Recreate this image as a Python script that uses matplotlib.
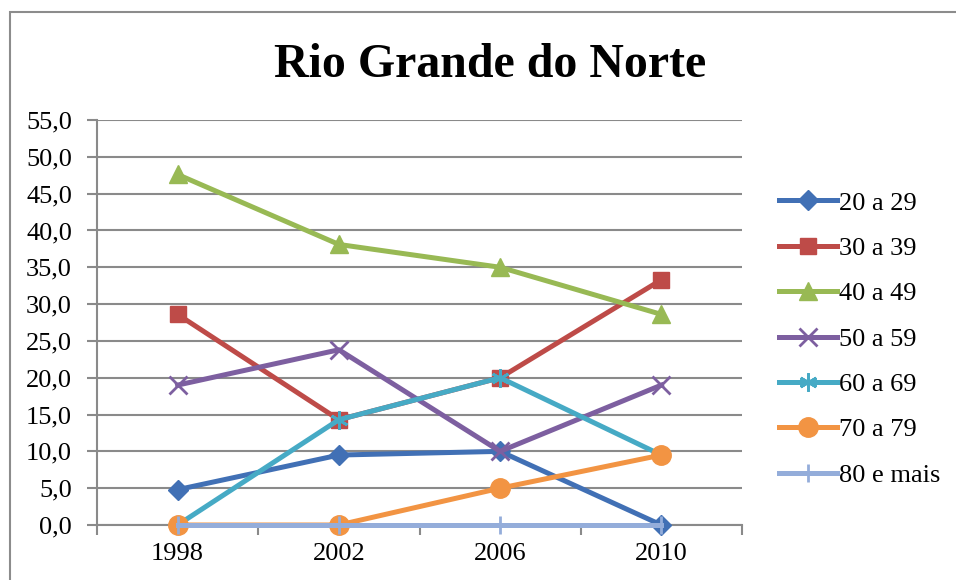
import matplotlib
matplotlib.use("Agg")
import matplotlib.pyplot as plt
from matplotlib.ticker import FixedLocator, NullFormatter
from matplotlib.patches import Rectangle

years = ["1998", "2002", "2006", "2010"]
s20 = [4.8, 9.5, 10.0, 0.0]
s30 = [28.6, 14.3, 20.0, 33.3]
s40 = [47.6, 38.1, 35.0, 28.6]
s50 = [19.0, 23.8, 10.0, 19.0]
s60 = [0.0, 14.3, 20.0, 9.5]
s70 = [0.0, 0.0, 5.0, 9.5]
s80 = [0.0, 0.0, 0.0, 0.0]
labels = ["20 a 29", "30 a 39", "40 a 49", "50 a 59", "60 a 69", "70 a 79", "80 e mais"]
yticks = [0, 5, 10, 15, 20, 25, 30, 35, 40, 45, 50, 55]

series = [s20, s30, s40, s50, s60, s70, s80]
colors = ["#4170B5", "#BE4B48", "#98B954", "#7D5FA0", "#46AAC5", "#F29443", "#94ADDA"]
markers = ["D", "s", "^", "x", (6, 2, 0), "o", "|"]
msizes = [10, 12, 13, 13, 13, 14, 13]

plt.rcParams['font.family'] = ['Liberation Serif', 'DejaVu Serif']

fig = plt.figure(figsize=(9.56, 5.8), dpi=100)
fig.patches.append(Rectangle((10/956, -0.05), 1.0, 1 - 12/580 + 0.05,
                             transform=fig.transFigure, fill=False,
                             edgecolor="#8C8C8C", linewidth=1.5))

ax = fig.add_axes([97/956, 1 - 525/580, (742 - 97)/956, (525 - 120)/580])
x = list(range(len(years)))
for vals, lab, c, m, ms in zip(series, labels, colors, markers, msizes):
    mew = 2.0 if m in ("x", "|") or isinstance(m, tuple) else 1.0
    ax.plot(x, vals, color=c, linewidth=3.6, marker=m, markersize=ms,
            markerfacecolor=c, markeredgecolor=c, markeredgewidth=mew,
            label=lab, solid_joinstyle="round", clip_on=False, zorder=3)

ax.set_xlim(-0.5, 3.5)
ax.set_ylim(0, 55)
ax.set_yticks(yticks)
ax.set_yticklabels([f"{v:.1f}".replace(".", ",") for v in yticks])
ax.yaxis.grid(True, color="#8A8A8A", linewidth=1.5)
ax.set_axisbelow(True)
ax.xaxis.set_major_locator(FixedLocator([-0.5, 0.5, 1.5, 2.5, 3.5]))
ax.xaxis.set_major_formatter(NullFormatter())
ax.xaxis.set_minor_locator(FixedLocator(x))
ax.set_xticklabels(years, minor=True)
ax.tick_params(axis="x", which="minor", length=0, labelsize=19, pad=13)
ax.tick_params(axis="x", which="major", length=7, width=1.5, color="#8A8A8A", direction="out")
ax.tick_params(axis="y", length=7, width=1.5, color="#8A8A8A", labelsize=19, pad=11)
for side in ("top", "right"):
    ax.spines[side].set_visible(False)
for side in ("left", "bottom"):
    ax.spines[side].set_color("#8A8A8A")
    ax.spines[side].set_linewidth(1.5)

fig.text(490/956, 1 - 65/580, "Rio Grande do Norte", ha="center", va="center",
         fontsize=34.5, fontweight="bold")

leg = fig.legend(loc="center left", bbox_to_anchor=(779/956, 1 - 339/580),
                 frameon=False, fontsize=19, handlelength=2.2, handletextpad=0.08,
                 labelspacing=0.83, borderaxespad=0, borderpad=0)

fig.savefig("out.png", dpi=100)
